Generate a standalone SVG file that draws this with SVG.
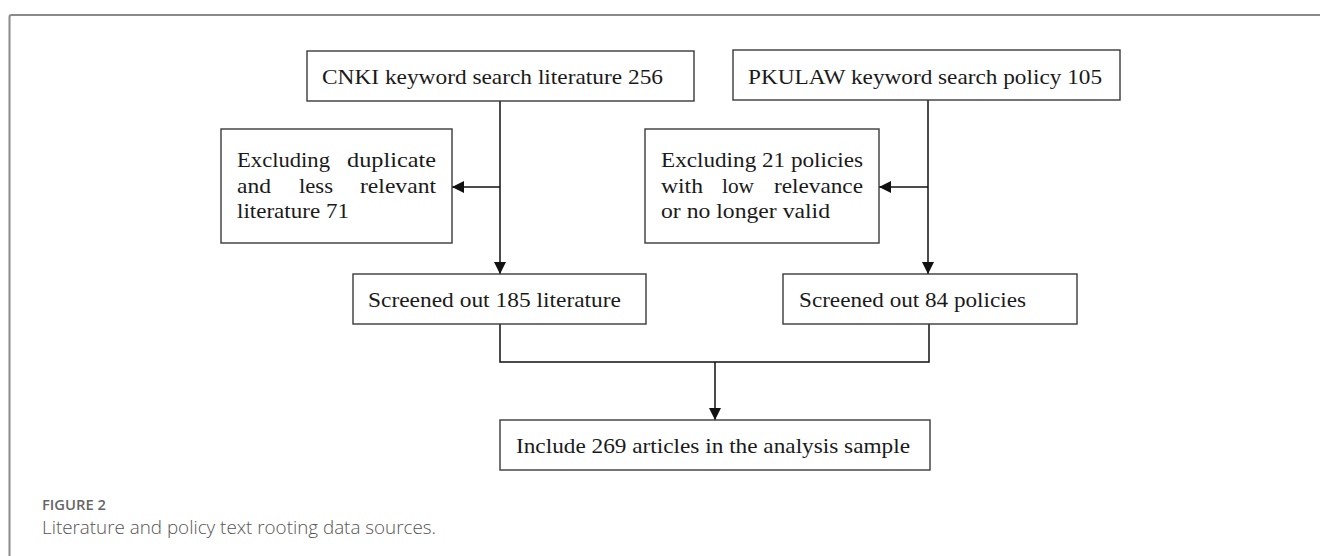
<svg xmlns="http://www.w3.org/2000/svg" width="1320" height="556" viewBox="0 0 1320 556">
<style>
.box{fill:#fff;stroke:#3a3a3a;stroke-width:1.4}
.t{font-family:"Liberation Serif","DejaVu Serif",serif;font-size:22px;fill:#1a1a1a}
.m{text-anchor:middle}
.e{text-anchor:end}
.ln{fill:none;stroke:#111;stroke-width:1.5}
.cap1{font-family:"Open Sans","Noto Sans",sans-serif;font-size:15px;font-weight:600;fill:#666}
.cap2{font-family:"Open Sans","Noto Sans",sans-serif;font-size:18.5px;font-weight:300;fill:#555}
</style>
<defs>
<marker id="ah" viewBox="0 0 10 10" refX="10" refY="5" markerWidth="12" markerHeight="12" markerUnits="userSpaceOnUse" orient="auto">
<path d="M0,0 L10,5 L0,10 z" fill="#111"/>
</marker>
</defs>
<rect x="0" y="0" width="1320" height="556" fill="#fff"/>
<path d="M9.5,556 V17 Q9.5,15 11.5,15 H1320" fill="none" stroke="#8a8a8a" stroke-width="2"/>

<g id="connectors">
<line class="ln" x1="500" y1="101" x2="500" y2="274" marker-end="url(#ah)"/>
<line class="ln" x1="500" y1="187" x2="452" y2="187" marker-end="url(#ah)"/>
<line class="ln" x1="928" y1="100" x2="928" y2="274" marker-end="url(#ah)"/>
<line class="ln" x1="928" y1="187" x2="879" y2="187" marker-end="url(#ah)"/>
<path class="ln" d="M500,324 V362 H929 V324"/>
<line class="ln" x1="715" y1="362" x2="715" y2="420" marker-end="url(#ah)"/>
</g>

<g id="cnki">
<rect class="box" x="307" y="51" width="387" height="50"/>
<text class="t" x="322" y="84" textLength="341" lengthAdjust="spacingAndGlyphs">CNKI keyword search literature 256</text>
</g>
<g id="pkulaw">
<rect class="box" x="733" y="50" width="387" height="50"/>
<text class="t" x="748" y="84" textLength="354" lengthAdjust="spacingAndGlyphs">PKULAW keyword search policy 105</text>
</g>
<g id="excl-lit">
<rect class="box" x="221" y="129" width="231" height="114"/>
<text class="t" x="237" y="167" textLength="93" lengthAdjust="spacingAndGlyphs">Excluding</text>
<text class="t e" x="436" y="167" textLength="89" lengthAdjust="spacingAndGlyphs">duplicate</text>
<text class="t" x="237" y="193" textLength="34" lengthAdjust="spacingAndGlyphs">and</text>
<text class="t m" x="316" y="193" textLength="34" lengthAdjust="spacingAndGlyphs">less</text>
<text class="t e" x="436" y="193" textLength="76" lengthAdjust="spacingAndGlyphs">relevant</text>
<text class="t" x="237" y="218" textLength="112" lengthAdjust="spacingAndGlyphs">literature 71</text>
</g>
<g id="excl-pol">
<rect class="box" x="645" y="129" width="234" height="114"/>
<text class="t" x="661" y="167" textLength="202" lengthAdjust="spacingAndGlyphs">Excluding 21 policies</text>
<text class="t" x="661" y="193" textLength="42" lengthAdjust="spacingAndGlyphs">with</text>
<text class="t m" x="738" y="193" textLength="32" lengthAdjust="spacingAndGlyphs">low</text>
<text class="t e" x="863" y="193" textLength="89" lengthAdjust="spacingAndGlyphs">relevance</text>
<text class="t" x="661" y="218" textLength="169" lengthAdjust="spacingAndGlyphs">or no longer valid</text>
</g>
<g id="screen-lit">
<rect class="box" x="353" y="274" width="293" height="50"/>
<text class="t" x="368" y="307" textLength="253" lengthAdjust="spacingAndGlyphs">Screened out 185 literature</text>
</g>
<g id="screen-pol">
<rect class="box" x="783" y="274" width="294" height="50"/>
<text class="t" x="799" y="307" textLength="227" lengthAdjust="spacingAndGlyphs">Screened out 84 policies</text>
</g>
<g id="include">
<rect class="box" x="500" y="420" width="430" height="50"/>
<text class="t" x="516" y="453" textLength="394" lengthAdjust="spacingAndGlyphs">Include 269 articles in the analysis sample</text>
</g>

<g id="caption">
<text class="cap1" x="42" y="510" textLength="64" lengthAdjust="spacingAndGlyphs">FIGURE 2</text>
<text class="cap2" x="42" y="534" textLength="394" lengthAdjust="spacingAndGlyphs">Literature and policy text rooting data sources.</text>
</g>
</svg>
